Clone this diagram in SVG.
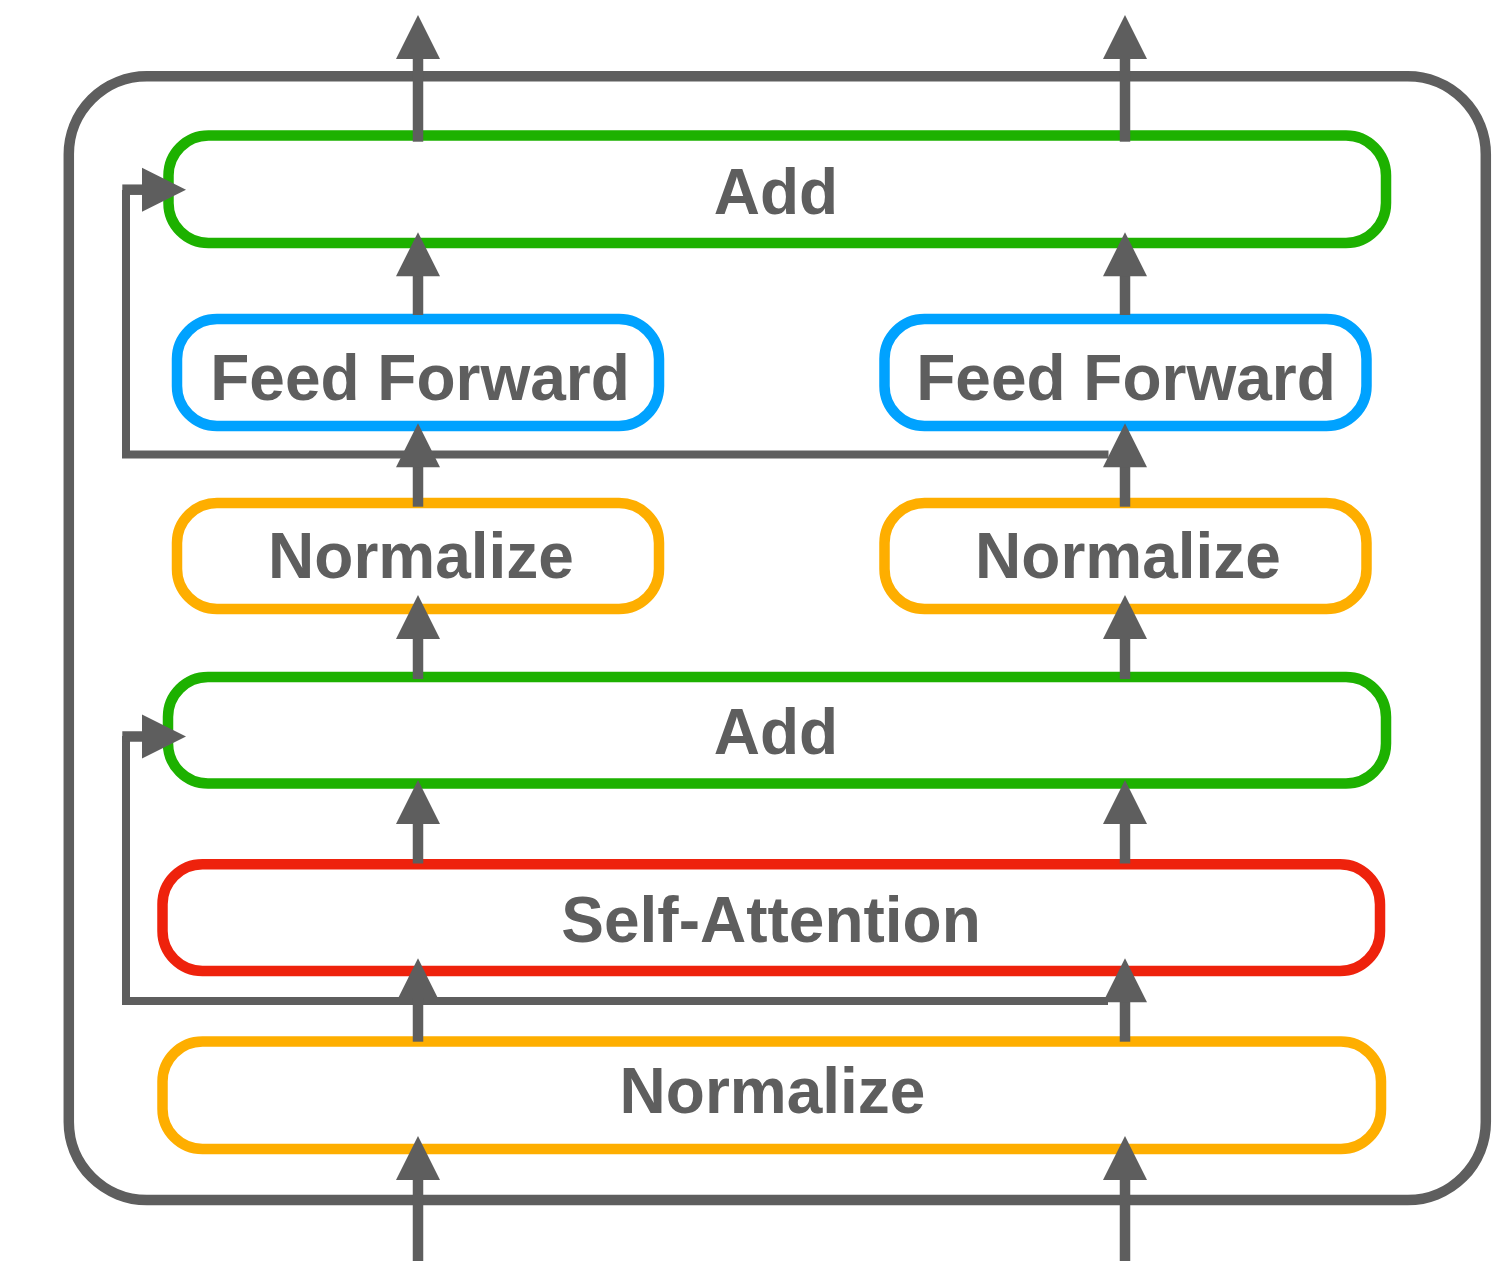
<svg xmlns="http://www.w3.org/2000/svg" width="1496" height="1261" viewBox="0 0 1496 1261">
  <style>
    .frame { fill: none; stroke: #5E5E5E; stroke-width: 10.5; }
    .box { fill: none; stroke-width: 10.5; }
    .add { stroke: #1DB100; }
    .ff { stroke: #00A2FF; }
    .norm { stroke: #FEAE00; }
    .attn { stroke: #EE220C; }
    .label { font-family: "Liberation Sans", Arial, Helvetica, sans-serif; font-weight: bold; font-size: 64px; fill: #5E5E5E; text-anchor: middle; }
    .shaft { fill: none; stroke: #5E5E5E; stroke-width: 10.5; }
    .skip { fill: none; stroke: #5E5E5E; stroke-width: 8; stroke-linejoin: miter; }
  </style>
  <defs>
    <!-- arrowhead, tip at the origin, pointing up -->
    <path id="head-up" d="M0 0 L22 44 L-22 44 Z" fill="#5E5E5E"/>
  </defs>

  <rect x="0" y="0" width="1496" height="1261" fill="#FFFFFF"/>

  <!-- encoder layer frame -->
  <g id="encoder-frame">
    <rect class="frame" x="68.8" y="76.3" width="1417" height="1123.7" rx="78" ry="78"/>
  </g>

  <!-- layers -->
  <g id="add-top">
    <rect class="box add" x="168.5" y="135.5" width="1217.5" height="107.5" rx="40" ry="40"/>
    <text class="label" x="776" y="214">Add</text>
  </g>
  <g id="feed-forward-left">
    <rect class="box ff" x="177" y="319" width="482" height="107" rx="40" ry="40"/>
    <text class="label" x="420" y="400">Feed Forward</text>
  </g>
  <g id="feed-forward-right">
    <rect class="box ff" x="884.5" y="319" width="482" height="107" rx="40" ry="40"/>
    <text class="label" x="1126" y="400">Feed Forward</text>
  </g>
  <g id="normalize-left">
    <rect class="box norm" x="177" y="503" width="482" height="106" rx="40" ry="40"/>
    <text class="label" x="421" y="578">Normalize</text>
  </g>
  <g id="normalize-right">
    <rect class="box norm" x="884.5" y="503" width="482" height="106" rx="40" ry="40"/>
    <text class="label" x="1128" y="578">Normalize</text>
  </g>
  <g id="add-mid">
    <rect class="box add" x="168" y="677" width="1218" height="106.5" rx="40" ry="40"/>
    <text class="label" x="776" y="754">Add</text>
  </g>
  <g id="self-attention">
    <rect class="box attn" x="162.5" y="864.3" width="1217.5" height="106.7" rx="40" ry="40"/>
    <text class="label" x="771" y="942">Self-Attention</text>
  </g>
  <g id="normalize-bottom">
    <rect class="box norm" x="162.5" y="1041.5" width="1218.5" height="107.5" rx="40" ry="40"/>
    <text class="label" x="772.5" y="1113">Normalize</text>
  </g>

  <!-- connectors -->
  <g id="connectors">
    <!-- residual paths -->
    <path class="skip" d="M126 190 V454.5 H1108.5"/>
    <path class="skip" d="M126 736 V1001 H1108"/>
    <path class="shaft" d="M122.3 189.7 H144"/>
    <path class="shaft" d="M122.3 736.5 H144"/>
    <use href="#head-up" transform="translate(186 189.7) rotate(90)"/>
    <use href="#head-up" transform="translate(186 736.5) rotate(90)"/>

    <!-- left column -->
    <path class="shaft" d="M418 1261 V1178"/>
    <use href="#head-up" transform="translate(418 1136)"/>
    <path class="shaft" d="M418 1041.7 V996"/>
    <use href="#head-up" transform="translate(418 958.3) scale(0.9)"/>
    <path class="shaft" d="M418 863.5 V822"/>
    <use href="#head-up" transform="translate(418 780)"/>
    <path class="shaft" d="M418 679 V637"/>
    <use href="#head-up" transform="translate(418 595)"/>
    <path class="shaft" d="M418 506.7 V465"/>
    <use href="#head-up" transform="translate(418 423.3)"/>
    <path class="shaft" d="M418 315 V274"/>
    <use href="#head-up" transform="translate(418 232.3)"/>
    <path class="shaft" d="M418 141.7 V57"/>
    <use href="#head-up" transform="translate(418 15)"/>

    <!-- right column -->
    <path class="shaft" d="M1125 1261 V1178"/>
    <use href="#head-up" transform="translate(1125 1136)"/>
    <path class="shaft" d="M1125 1041.7 V1000"/>
    <use href="#head-up" transform="translate(1125 958.3)"/>
    <path class="shaft" d="M1125 863.5 V822"/>
    <use href="#head-up" transform="translate(1125 780)"/>
    <path class="shaft" d="M1125 679 V637"/>
    <use href="#head-up" transform="translate(1125 595)"/>
    <path class="shaft" d="M1125 506.7 V465"/>
    <use href="#head-up" transform="translate(1125 423.3)"/>
    <path class="shaft" d="M1125 315 V274"/>
    <use href="#head-up" transform="translate(1125 232.3)"/>
    <path class="shaft" d="M1125 141.7 V57"/>
    <use href="#head-up" transform="translate(1125 15)"/>
  </g>
</svg>
